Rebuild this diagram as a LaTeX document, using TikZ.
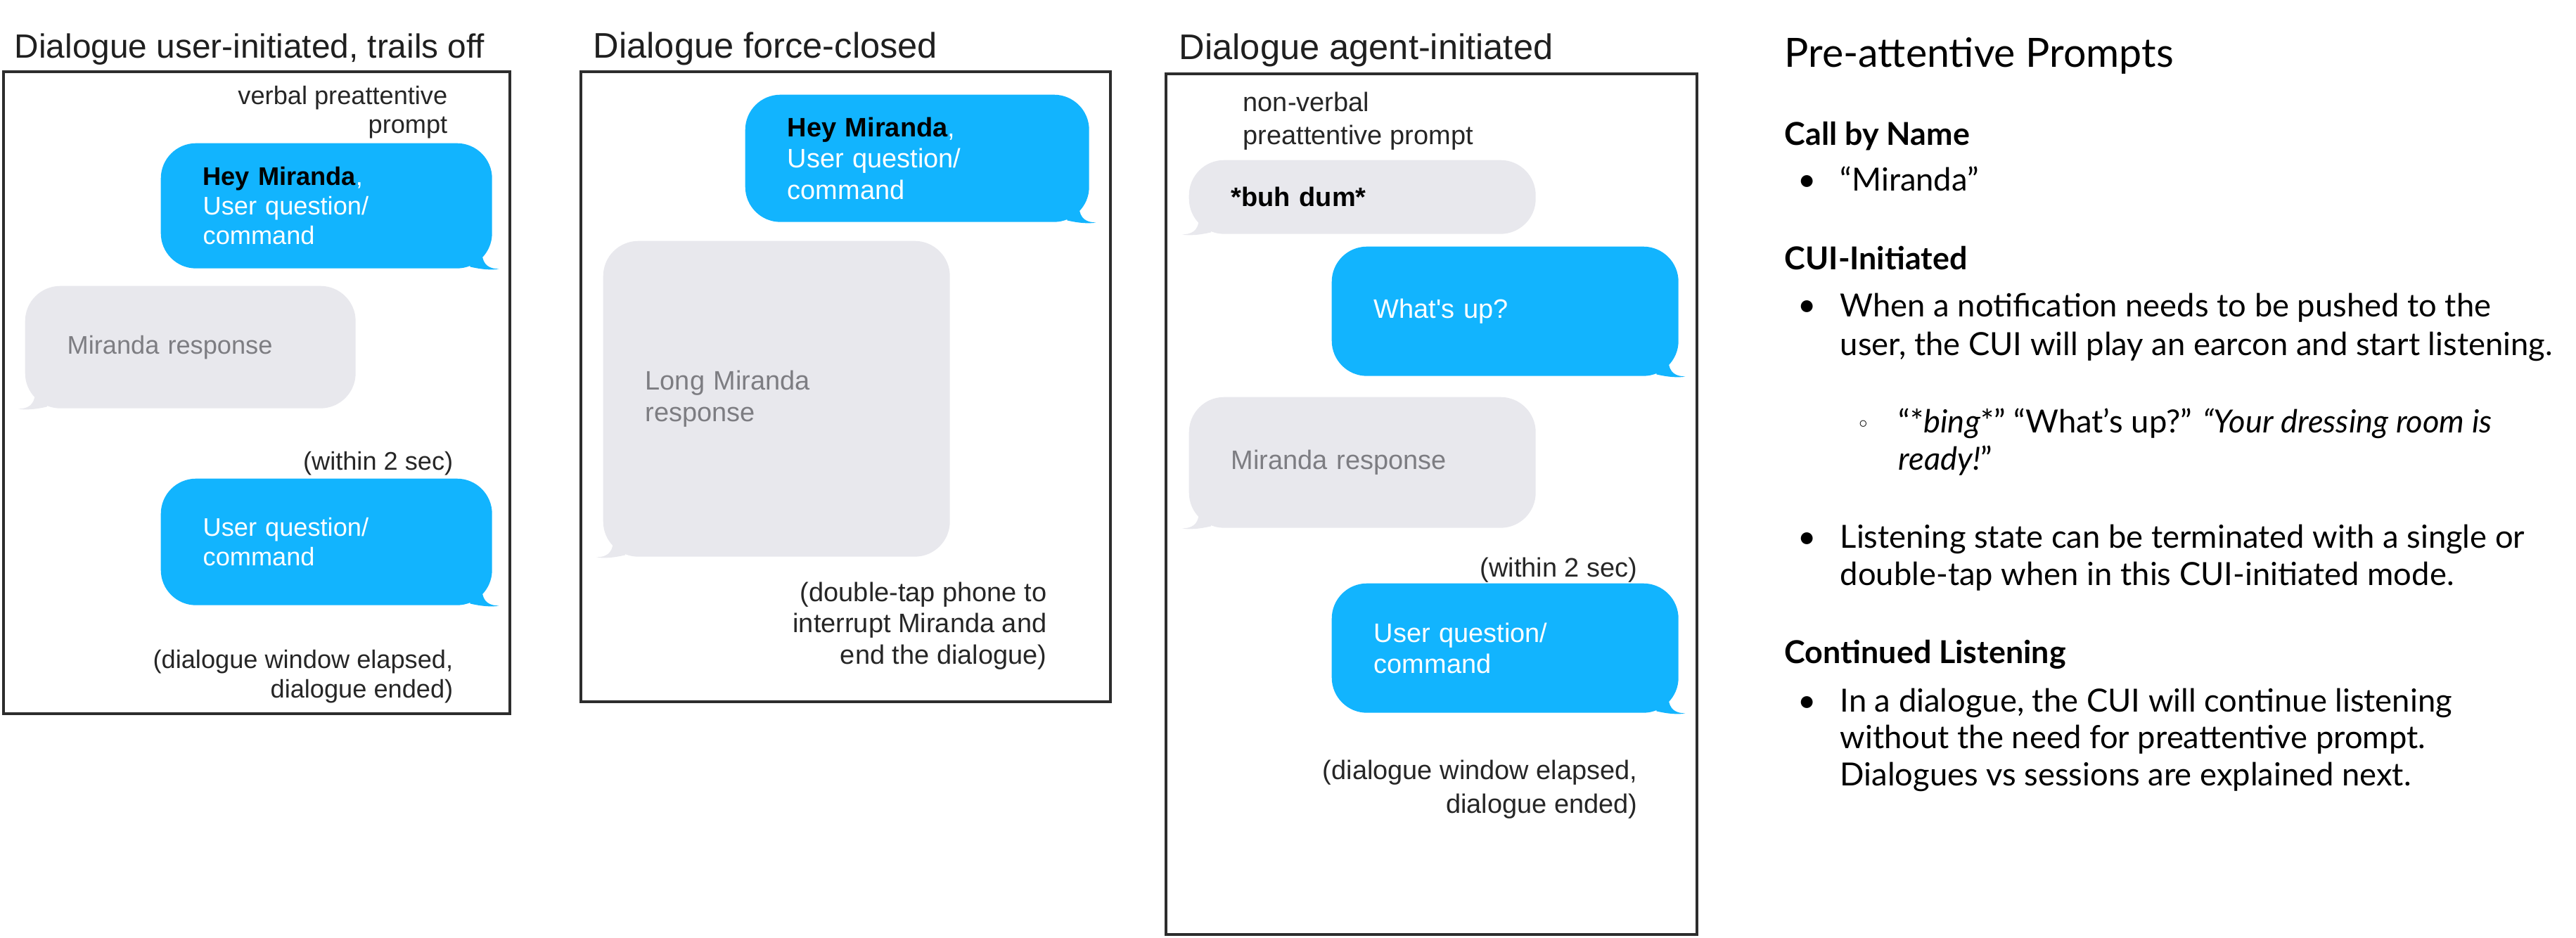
\documentclass[tikz,border=0pt]{standalone}
\usepackage{fontspec}
\setmainfont{Lato}
\newfontfamily\helv{Liberation Sans}
\newfontfamily\symfont{DejaVu Sans}
\usepackage{xcolor}
\definecolor{msgblue}{RGB}{18,180,254}
\definecolor{msggrey}{RGB}{232,232,237}
\definecolor{msgtext}{RGB}{125,125,130}
\definecolor{frame}{RGB}{45,45,45}

\tikzset{
  panel/.style={draw=frame,line width=1.1pt},
  heading/.style={anchor=base west,inner sep=0pt,text=black!88,font=\helv\fontsize{13.6}{16}\selectfont},
  note/.style={inner sep=0pt,align=right,text=black!85},
  usermsg/.style={anchor=north west,rectangle,rounded corners=0.5cm,fill=msgblue,text=white,align=left,inner xsep=0.6cm,inner ysep=0pt},
  botmsg/.style={anchor=north west,rectangle,rounded corners=0.5cm,fill=msggrey,text=msgtext,align=left,inner xsep=0.6cm,inner ysep=0pt},
  topic/.style={anchor=base west,inner sep=0pt,font=\bfseries\fontsize{12.75}{15}\selectfont},
  para/.style={anchor=base west,inner sep=0pt,align=left,font=\fontsize{12.9}{15.3}\selectfont},
  dot/.style={anchor=base,inner sep=0pt,font=\fontsize{12.9}{12.9}\selectfont}
}

\begin{document}
\begin{tikzpicture}
        \useasboundingbox (0,0) rectangle (36.63,13.33);
        % user-initiated dialogue
        \begin{scope}[font=\helv\fontsize{10.3}{11.9}\selectfont]
            \node[heading] (t1) at (0.20,12.50) {Dialogue user-initiated, trails off};
            \draw[panel] (0.05,3.18) rectangle (7.25,12.31);
            \node[note,anchor=base east] (n1) at (6.37,11.43) {verbal preattentive\\prompt};
            \node[usermsg,text width=3.51cm,minimum height=1.78cm] (u1) at (2.28,11.30) {\textbf{\color{black}Hey Miranda},\\User question/\\command};
            \node[botmsg,text width=3.50cm,minimum height=1.74cm] (b1) at (0.35,9.27) {Miranda response};
            \node[note,anchor=base east] (n2) at (6.45,6.64) {(within 2 sec)};
            \node[usermsg,text width=3.51cm,minimum height=1.80cm] (u2) at (2.28,6.53) {User question/\\command};
            \node[note,anchor=base east] (n3) at (6.45,3.41) {(dialogue window elapsed,\\dialogue ended)};
        \end{scope}
        % force-closed dialogue
        \begin{scope}[xshift=8.26cm,font=\helv\fontsize{10.8}{12.6}\selectfont]
            \node[heading,font=\helv\fontsize{14.4}{16}\selectfont] (t2) at (0.17,12.50) {Dialogue force-closed};
            \draw[panel] (0,3.35) rectangle (7.53,12.31);
            \node[usermsg,text width=3.69cm,minimum height=1.81cm] (u3) at (2.33,11.99) {\textbf{\color{black}Hey Miranda},\\User question/\\command};
            \node[botmsg,text width=3.73cm,minimum height=4.49cm] (b2) at (0.31,9.91) {Long Miranda\\response};
            \node[note,anchor=base east] (n4) at (6.63,3.89) {(double-tap phone to\\interrupt Miranda and\\end the dialogue)};
        \end{scope}
        % agent-initiated dialogue
        \begin{scope}[xshift=16.58cm,font=\helv\fontsize{10.8}{12.6}\selectfont]
            \node[heading,font=\helv\fontsize{14.4}{16}\selectfont] (t3) at (0.18,12.48) {Dialogue agent-initiated};
            \draw[panel] (0,0.04) rectangle (7.55,12.28);
            \node[note,align=left,anchor=base west,font=\helv\fontsize{10.8}{13.4}\selectfont] (n5) at (1.09,11.27) {non-verbal\\preattentive prompt};
            \node[botmsg,text width=3.73cm,minimum height=1.05cm] (b3) at (0.32,11.06) {\textbf{\color{black}*buh dum*}};
            \node[usermsg,text width=3.73cm,minimum height=1.84cm] (u4) at (2.35,9.83) {What's up?};
            \node[botmsg,text width=3.73cm,minimum height=1.86cm] (b4) at (0.32,7.69) {Miranda response};
            \node[note,anchor=base east] (n6) at (6.71,5.13) {(within 2 sec)};
            \node[usermsg,text width=3.73cm,minimum height=1.84cm] (u5) at (2.35,5.04) {User question/\\command};
            \node[note,anchor=base east,font=\helv\fontsize{10.8}{13.6}\selectfont] (n7) at (6.71,1.77) {(dialogue window elapsed,\\dialogue ended)};
        \end{scope}
        % bubble tails
        \foreach \b in {u1,u2,u3,u4,u5}
            \fill[msgblue] ([shift={(-0.15,0.22)}]\b.south east) .. controls ([shift={(-0.14,0.05)}]\b.south east) and ([shift={(-0.04,0.0)}]\b.south east) .. ([shift={(0.09,0.0)}]\b.south east) .. controls ([shift={(0.0,-0.02)}]\b.south east) and ([shift={(-0.15,-0.01)}]\b.south east) .. ([shift={(-0.32,0.03)}]\b.south east) -- ([shift={(-0.32,0.22)}]\b.south east) -- cycle;
        \foreach \b in {b1,b2,b3,b4}
            \fill[msggrey] ([shift={(0.15,0.22)}]\b.south west) .. controls ([shift={(0.14,0.05)}]\b.south west) and ([shift={(0.04,0.0)}]\b.south west) .. ([shift={(-0.09,0.0)}]\b.south west) .. controls ([shift={(0.0,-0.02)}]\b.south west) and ([shift={(0.15,-0.01)}]\b.south west) .. ([shift={(0.32,0.03)}]\b.south west) -- ([shift={(0.32,0.22)}]\b.south west) -- cycle;
        % pre-attentive prompts
        \begin{scope}[xshift=25.37cm]
            \node[anchor=base west,inner sep=0pt,font=\fontsize{16.3}{18}\selectfont] (pt) at (0,12.37) {Pre-attentive Prompts};
            \node[topic] (h1) at (0,11.26) {Call by Name};
            \node[dot] (d1) at (0.33,10.61) {•};
            \node[para] (p1) at (0.79,10.61) {“Miranda”};
            \node[topic] (h2) at (0,9.49) {CUI-Initiated};
            \node[dot] (d2) at (0.33,8.83) {•};
            \node[para,font=\fontsize{12.9}{15.9}\selectfont] (p2) at (0.79,8.27) {When a notification needs to be pushed to the\\user, the CUI will play an earcon and start listening.};
            \node[dot,font=\symfont\fontsize{9}{9}\selectfont] (d3) at (1.13,7.18) {◦};
            \node[para,font=\fontsize{12.9}{15.3}\selectfont] (p3) at (1.62,6.64) {“*\textit{bing}*” “What’s up?” {\itshape “Your dressing room is}\\{\itshape ready!}”};
            \node[dot] (d4) at (0.33,5.53) {•};
            \node[para,font=\fontsize{12.9}{14.8}\selectfont] (p4) at (0.79,5.01) {Listening state can be terminated with a single or\\double-tap when in this CUI-initiated mode.};
            \node[topic] (h3) at (0,3.90) {Continued Listening};
            \node[dot] (d5) at (0.33,3.21) {•};
            \node[para,font=\fontsize{12.9}{14.9}\selectfont] (p5) at (0.79,2.16) {In a dialogue, the CUI will continue listening\\without the need for preattentive prompt.\\Dialogues vs sessions are explained next.};
        \end{scope}
\end{tikzpicture}
\end{document}
